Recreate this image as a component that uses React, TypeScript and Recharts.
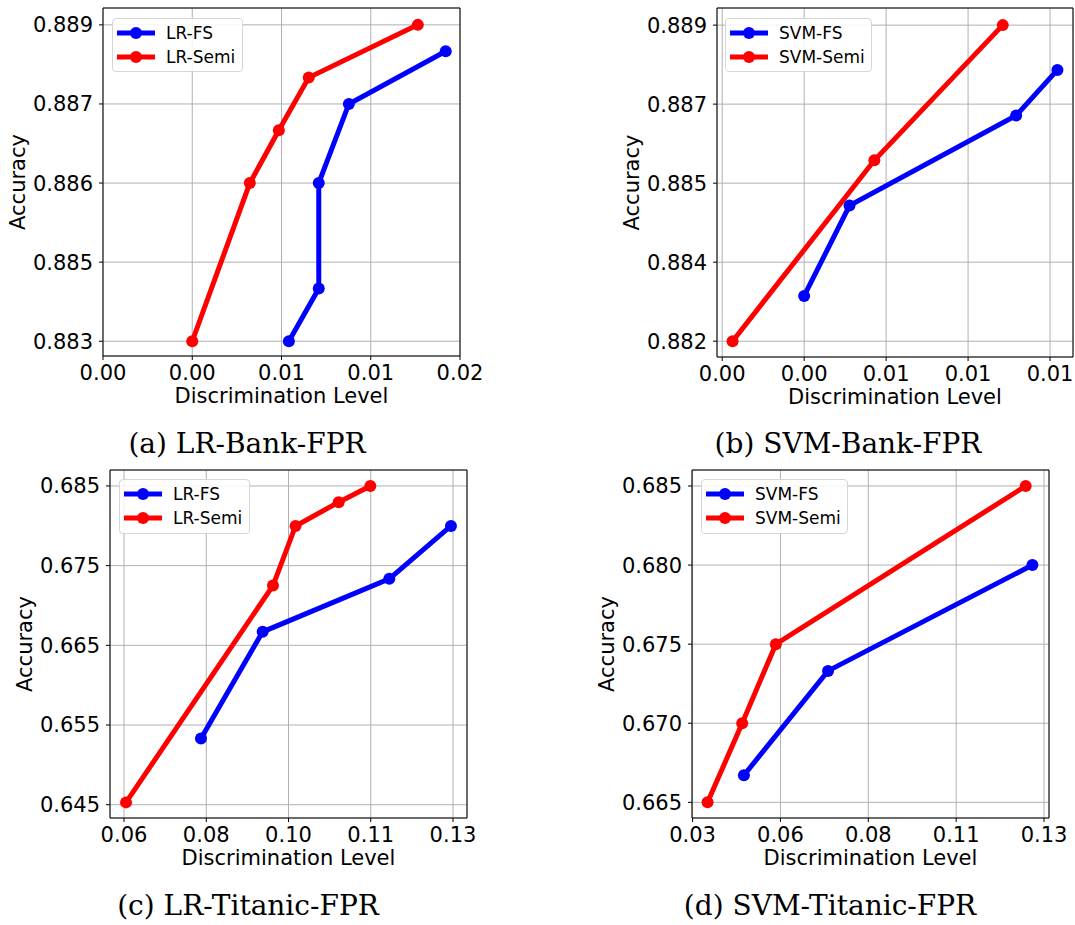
import { LineChart, Line, XAxis, YAxis, CartesianGrid, ReferenceArea, Label } from 'recharts'

const BLUE = '#0000ff'
const RED = '#ff0000'

// (a) LR-Bank-FPR
const bankLrFsX = [0.00833, 0.00967, 0.00967, 0.01102, 0.01536]
const bankLrFsY = [0.883, 0.884, 0.886, 0.8875, 0.8885]
const bankLrSemiX = [0.004, 0.00658, 0.00788, 0.00922, 0.01411]
const bankLrSemiY = [0.883, 0.886, 0.887, 0.888, 0.889]
const bankLrXTicks = [0, 0.004, 0.008, 0.012, 0.016]
const bankLrXLabels = ['0.00', '0.00', '0.01', '0.01', '0.02']
const bankLrYTicks = [0.883, 0.8845, 0.886, 0.8875, 0.889]
const bankLrYLabels = ['0.883', '0.885', '0.886', '0.887', '0.889']

// (b) SVM-Bank-FPR
const bankSvmFsX = [0.003, 0.00466, 0.01076, 0.01227]
const bankSvmFsY = [0.88283, 0.88489, 0.88694, 0.88798]
const bankSvmSemiX = [0.00038, 0.00557, 0.01027]
const bankSvmSemiY = [0.8818, 0.88592, 0.889]
const bankSvmXTicks = [0, 0.003, 0.006, 0.009, 0.012]
const bankSvmXLabels = ['0.00', '0.00', '0.01', '0.01', '0.01']
const bankSvmYTicks = [0.8818, 0.8836, 0.8854, 0.8872, 0.889]
const bankSvmYLabels = ['0.882', '0.884', '0.885', '0.887', '0.889']

// (c) LR-Titanic-FPR
const titLrFsX = [0.07638, 0.0895, 0.11645, 0.12957]
const titLrFsY = [0.65331, 0.66669, 0.67334, 0.67998]
const titLrSemiX = [0.06043, 0.0917, 0.0965, 0.10567, 0.11241]
const titLrSemiY = [0.64529, 0.6725, 0.67998, 0.68296, 0.685]
const titLrXTicks = [0.06, 0.0775, 0.095, 0.1125, 0.13]
const titLrXLabels = ['0.06', '0.08', '0.10', '0.11', '0.13']
const titLrYTicks = [0.645, 0.655, 0.665, 0.675, 0.685]
const titLrYLabels = ['0.645', '0.655', '0.665', '0.675', '0.685']

// (d) SVM-Titanic-FPR
const titSvmFsX = [0.04802, 0.071, 0.12683]
const titSvmFsY = [0.66671, 0.67331, 0.68]
const titSvmSemiX = [0.03809, 0.04755, 0.05674, 0.125]
const titSvmSemiY = [0.665, 0.67, 0.675, 0.685]
const titSvmXTicks = [0.034, 0.058, 0.082, 0.106, 0.13]
const titSvmXLabels = ['0.03', '0.06', '0.08', '0.11', '0.13']
const titSvmYTicks = [0.665, 0.67, 0.675, 0.68, 0.685]
const titSvmYLabels = ['0.665', '0.670', '0.675', '0.680', '0.685']

type Pt = { x: number; y: number }
const zip = (xs: number[], ys: number[]): Pt[] => xs.map((x, i) => ({ x, y: ys[i] }))

interface Series {
  name: string
  color: string
  data: Pt[]
}

interface PanelProps {
  left: number
  top: number
  width: number
  height: number
  margin: { top: number; right: number; left: number; bottom: number }
  yAxisWidth: number
  xDomain: [number, number]
  yDomain: [number, number]
  xTicks: number[]
  xLabels: string[]
  yTicks: number[]
  yLabels: string[]
  yLabelX: number
  series: Series[]
  legend: { left: number; top: number; width: number; height: number }
  caption: { text: string; cx: number; top: number }
}

const FONT = 'DejaVu Sans'
const TICK_FONT = 21

function LegendBox({ series, box }: { series: Series[]; box: PanelProps['legend'] }) {
  return (
    <div
      style={{
        position: 'absolute',
        left: box.left,
        top: box.top,
        width: box.width,
        height: box.height,
        boxSizing: 'border-box',
        border: '1px solid #d6d6d6',
        borderRadius: 4,
        background: 'rgba(255,255,255,0.85)',
        fontFamily: FONT,
        fontSize: 17,
      }}
    >
      {series.map((s, i) => (
        <div
          key={s.name}
          style={{ position: 'absolute', left: 3, top: 2 + i * 24, height: 24, display: 'flex', alignItems: 'center' }}
        >
          <svg width={40} height={14}>
            <line x1={1} y1={7} x2={39} y2={7} stroke={s.color} strokeWidth={5} />
            <circle cx={20} cy={7} r={6} fill={s.color} />
          </svg>
          <span style={{ marginLeft: 10, lineHeight: '24px' }}>{s.name}</span>
        </div>
      ))}
    </div>
  )
}

function Panel(p: PanelProps) {
  const yLabel = (props: any) => {
    const vb = props.viewBox
    const cy = vb.y + vb.height / 2
    return (
      <text
        x={p.yLabelX}
        y={cy}
        transform={`rotate(-90, ${p.yLabelX}, ${cy})`}
        textAnchor="middle"
        dominantBaseline="central"
        fontSize={TICK_FONT}
        fontFamily={FONT}
        fill="#000"
      >
        Accuracy
      </text>
    )
  }
  const xLabel = (props: any) => {
    const vb = props.viewBox
    return (
      <text
        x={vb.x + vb.width / 2}
        y={vb.y + 47}
        textAnchor="middle"
        fontSize={TICK_FONT}
        fontFamily={FONT}
        fill="#000"
      >
        Discrimination Level
      </text>
    )
  }
  return (
    <>
      <div style={{ position: 'absolute', left: p.left, top: p.top }}>
        <LineChart width={p.width} height={p.height} margin={p.margin}>
          <CartesianGrid stroke="#b0b0b0" strokeWidth={1} />
          <XAxis
            dataKey="x"
            type="number"
            domain={p.xDomain}
            allowDataOverflow
            ticks={p.xTicks}
            interval={0}
            tickFormatter={(_v: number, i: number) => p.xLabels[i]}
            height={56}
            axisLine={false}
            tickLine={{ stroke: '#000' }}
            tickSize={4}
            tickMargin={5}
            tick={{ fill: '#000', fontSize: TICK_FONT, fontFamily: FONT }}
          >
            <Label content={xLabel} />
          </XAxis>
          <YAxis
            dataKey="y"
            type="number"
            domain={p.yDomain}
            allowDataOverflow
            ticks={p.yTicks}
            interval={0}
            tickFormatter={(_v: number, i: number) => p.yLabels[i]}
            width={p.yAxisWidth}
            axisLine={false}
            tickLine={{ stroke: '#000' }}
            tickSize={4}
            tickMargin={6}
            tick={{ fill: '#000', fontSize: TICK_FONT, fontFamily: FONT }}
          >
            <Label content={yLabel} />
          </YAxis>
          {p.series.map((s) => (
            <Line
              key={s.name}
              data={s.data}
              dataKey="y"
              name={s.name}
              type="linear"
              stroke={s.color}
              strokeWidth={5}
              dot={{ r: 6, fill: s.color, stroke: s.color, strokeWidth: 0 }}
              activeDot={false}
              isAnimationActive={false}
            />
          ))}
          <ReferenceArea
            x1={p.xDomain[0]}
            x2={p.xDomain[1]}
            y1={p.yDomain[0]}
            y2={p.yDomain[1]}
            fill="none"
            fillOpacity={0}
            stroke="#000"
            strokeWidth={1}
          />
        </LineChart>
        <LegendBox series={p.series} box={p.legend} />
      </div>
      <div
        style={{
          position: 'absolute',
          left: p.left + p.caption.cx - 200,
          top: p.top + p.caption.top,
          width: 400,
          textAlign: 'center',
          fontFamily: 'DejaVu Serif',
          fontSize: 28,
          lineHeight: '32px',
          color: '#000',
        }}
      >
        {p.caption.text}
      </div>
    </>
  )
}

const panels: PanelProps[] = [
  {
    left: 0,
    top: 0,
    width: 500,
    height: 420,
    margin: { top: 8, right: 40, left: 0, bottom: 8 },
    yAxisWidth: 103,
    xDomain: [0, 0.016],
    yDomain: [0.88272, 0.88932],
    xTicks: bankLrXTicks,
    xLabels: bankLrXLabels,
    yTicks: bankLrYTicks,
    yLabels: bankLrYLabels,
    yLabelX: 18,
    series: [
      { name: 'LR-FS', color: BLUE, data: zip(bankLrFsX, bankLrFsY) },
      { name: 'LR-Semi', color: RED, data: zip(bankLrSemiX, bankLrSemiY) },
    ],
    legend: { left: 112, top: 18, width: 131, height: 54 },
    caption: { text: '(a) LR-Bank-FPR', cx: 247, top: 428 },
  },
  {
    left: 600,
    top: 0,
    width: 475,
    height: 420,
    margin: { top: 8, right: 2, left: 0, bottom: 7 },
    yAxisWidth: 117,
    xDomain: [-0.00019, 0.01284],
    yDomain: [0.88144, 0.88939],
    xTicks: bankSvmXTicks,
    xLabels: bankSvmXLabels,
    yTicks: bankSvmYTicks,
    yLabels: bankSvmYLabels,
    yLabelX: 32,
    series: [
      { name: 'SVM-FS', color: BLUE, data: zip(bankSvmFsX, bankSvmFsY) },
      { name: 'SVM-Semi', color: RED, data: zip(bankSvmSemiX, bankSvmSemiY) },
    ],
    legend: { left: 125, top: 18, width: 147, height: 54 },
    caption: { text: '(b) SVM-Bank-FPR', cx: 248, top: 428 },
  },
  {
    left: 0,
    top: 460,
    width: 500,
    height: 420,
    margin: { top: 10, right: 33, left: 0, bottom: 6 },
    yAxisWidth: 110,
    xDomain: [0.05702, 0.13298],
    yDomain: [0.64333, 0.687],
    xTicks: titLrXTicks,
    xLabels: titLrXLabels,
    yTicks: titLrYTicks,
    yLabels: titLrYLabels,
    yLabelX: 25,
    series: [
      { name: 'LR-FS', color: BLUE, data: zip(titLrFsX, titLrFsY) },
      { name: 'LR-Semi', color: RED, data: zip(titLrSemiX, titLrSemiY) },
    ],
    legend: { left: 119, top: 19, width: 131, height: 55 },
    caption: { text: '(c) LR-Titanic-FPR', cx: 248, top: 430 },
  },
  {
    left: 590,
    top: 460,
    width: 485,
    height: 420,
    margin: { top: 10, right: 26, left: 0, bottom: 6 },
    yAxisWidth: 102,
    xDomain: [0.03384, 0.13136],
    yDomain: [0.66401, 0.68601],
    xTicks: titSvmXTicks,
    xLabels: titSvmXLabels,
    yTicks: titSvmYTicks,
    yLabels: titSvmYLabels,
    yLabelX: 17,
    series: [
      { name: 'SVM-FS', color: BLUE, data: zip(titSvmFsX, titSvmFsY) },
      { name: 'SVM-Semi', color: RED, data: zip(titSvmSemiX, titSvmSemiY) },
    ],
    legend: { left: 111, top: 19, width: 147, height: 55 },
    caption: { text: '(d) SVM-Titanic-FPR', cx: 240, top: 430 },
  },
]

export default function App() {
  return (
    <div
      style={{
        position: 'absolute',
        left: 0,
        top: 0,
        width: 1075,
        height: 925,
        background: '#fff',
        overflow: 'hidden',
      }}
    >
      {panels.map((p, i) => (
        <Panel key={i} {...p} />
      ))}
    </div>
  )
}
